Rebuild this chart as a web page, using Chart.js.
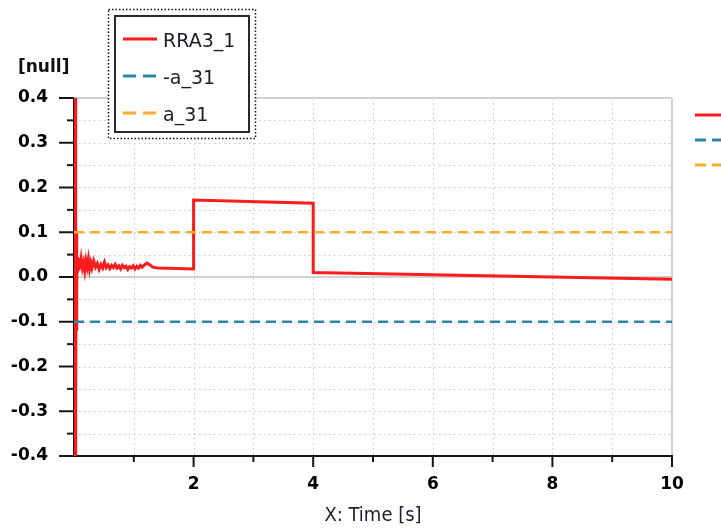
<!DOCTYPE html>
<html lang="en">
<head>
    <meta charset="UTF-8">
    <title>RRA3_1</title>
    <script src="https://cdn.jsdelivr.net/npm/chart.js"></script>
    <style>
        html, body { margin: 0; padding: 0; background: #fff; }
        #wrap { position: relative; width: 721px; height: 532px; }
    </style>
</head>
<body>
    <div id="wrap"><canvas id="myChart"></canvas></div>
    <script>
        // RRA3_1: time [s] and value
        const rraTime = [
            0, 0.004, 0.008, 0.012, 0.016, 0.02, 0.024, 0.028, 0.032, 0.036, 0.04, 0.045,
            0.05, 0.055, 0.06, 0.07, 0.08, 0.09, 0.1, 0.12, 0.14, 0.16, 0.18, 0.2,
            0.22, 0.24, 0.26, 0.28, 0.3, 0.33, 0.36, 0.39, 0.42, 0.45, 0.48, 0.51,
            0.54, 0.57, 0.6, 0.63, 0.66, 0.69, 0.72, 0.75, 0.78, 0.81, 0.84, 0.87,
            0.9, 0.93, 0.96, 0.99, 1.02, 1.05, 1.08, 1.11, 1.14, 1.18, 1.22, 1.26,
            1.32, 1.4, 2.0, 2.0, 4.0, 4.0, 10
        ];
        const rraValue = [
            0, 0.62, -0.6, 0.55, -0.55, 0.4, -0.45, 0.2, -0.3, 0.1, -0.12, 0.08,
            -0.02, 0.045, 0.01, 0.042, 0.015, 0.035, 0.018, 0.04, 0.02, 0.032, 0.014, 0.036,
            0.022, 0.04, 0.018, 0.032, 0.02, 0.036, 0.022, 0.03, 0.017, 0.028, 0.02, 0.033,
            0.021, 0.027, 0.019, 0.026, 0.021, 0.028, 0.02, 0.025, 0.018, 0.026, 0.021, 0.024,
            0.017, 0.023, 0.02, 0.025, 0.018, 0.024, 0.02, 0.026, 0.022, 0.027, 0.031, 0.028,
            0.022, 0.02, 0.018, 0.172, 0.165, 0.01, -0.005
        ];
        const limitTime = [0, 10];
        const negA31 = [-0.1, -0.1];
        const posA31 = [0.1, 0.1];

        const seriesNames = ['RRA3_1', '-a_31', 'a_31'];
        const seriesColors = ['#f81c1c', '#2f86a6', '#fbab2e'];

        const xTickLabels = [2, 4, 6, 8, 10];
        const yTickLabels = [-0.4, -0.3, -0.2, -0.1, 0, 0.1, 0.2, 0.3, 0.4];
        const yAxisUnit = '[null]';
        const xAxisTitle = 'X: Time [s]';

        const toPoints = (xs, ys) => xs.map((t, i) => ({ x: t, y: ys[i] }));
        const round2 = v => Math.round(v * 100) / 100;
        const isXLabel = v => xTickLabels.includes(round2(v));
        const isYLabel = v => yTickLabels.includes(round2(v) === 0 ? 0 : round2(v));

        function seg(ctx, x1, y1, x2, y2) {
            ctx.beginPath();
            ctx.moveTo(x1, y1);
            ctx.lineTo(x2, y2);
            ctx.stroke();
        }

        // grid, border and axes with tick marks
        const frame = {
            id: 'frame',
            beforeDatasetsDraw(chart) {
                const { ctx, chartArea: a, scales: { x, y } } = chart;
                ctx.save();
                ctx.lineWidth = 1;
                ctx.strokeStyle = '#c8c8c8';
                ctx.setLineDash([1.5, 3.5]);
                x.ticks.forEach(t => {
                    if (t.value <= x.min || t.value >= x.max) return;
                    const px = Math.round(x.getPixelForValue(t.value)) + 0.5;
                    seg(ctx, px, a.top, px, a.bottom);
                });
                y.ticks.forEach(t => {
                    if (t.value <= y.min || t.value >= y.max || round2(t.value) === 0) return;
                    const py = Math.round(y.getPixelForValue(t.value)) + 0.5;
                    seg(ctx, a.left, py, a.right, py);
                });
                ctx.setLineDash([]);
                ctx.strokeStyle = '#d2d2d2';
                ctx.lineWidth = 2;
                const y0 = y.getPixelForValue(0);
                seg(ctx, a.left, y0, a.right, y0);
                seg(ctx, a.left, a.top, a.right, a.top);
                seg(ctx, a.right, a.top, a.right, a.bottom);

                ctx.strokeStyle = '#151515';
                ctx.lineWidth = 2;
                seg(ctx, a.left, a.top, a.left, a.bottom + 1);
                seg(ctx, a.left - 1, a.bottom, a.right + 1, a.bottom);
                y.ticks.forEach(t => {
                    const py = y.getPixelForValue(t.value);
                    seg(ctx, a.left - (isYLabel(t.value) ? 15 : 7), py, a.left, py);
                });
                x.ticks.forEach(t => {
                    if (t.value <= x.min) return;
                    const px = x.getPixelForValue(t.value);
                    seg(ctx, px, a.bottom, px, a.bottom + (isXLabel(t.value) ? 11 : 6));
                });
                ctx.restore();
            }
        };

        // boxed legend, unit label and the cut-off legend at the right edge
        const boxLegend = {
            id: 'boxLegend',
            afterDraw(chart) {
                const ctx = chart.ctx;
                const sets = chart.data.datasets;
                ctx.save();
                ctx.fillStyle = '#111';
                ctx.font = 'bold 17px "DejaVu Sans"';
                ctx.textBaseline = 'middle';
                ctx.fillText(yAxisUnit, 18, 68);

                ctx.fillStyle = '#fff';
                ctx.fillRect(108, 9, 148, 130);
                ctx.strokeStyle = '#111';
                ctx.lineWidth = 1.5;
                ctx.setLineDash([1.5, 2]);
                ctx.strokeRect(108.5, 9.5, 147, 129);
                ctx.setLineDash([]);
                ctx.lineWidth = 2;
                ctx.strokeStyle = '#2a2a2a';
                ctx.strokeRect(115, 16, 134, 116);

                ctx.font = '19px "DejaVu Sans"';
                sets.forEach((ds, i) => {
                    const yy = 39 + i * 37;
                    ctx.strokeStyle = ds.borderColor;
                    ctx.lineWidth = 3;
                    ctx.setLineDash(ds.borderDash.length ? [13, 7] : []);
                    seg(ctx, 123, yy, 157, yy);
                    ctx.setLineDash([]);
                    ctx.fillStyle = '#1c1c2a';
                    ctx.fillText(ds.label, 163, yy + 3);
                });

                sets.forEach((ds, i) => {
                    const yy = 115 + i * 25;
                    ctx.strokeStyle = ds.borderColor;
                    ctx.lineWidth = 3;
                    ctx.setLineDash(ds.borderDash.length ? [11, 6] : []);
                    seg(ctx, 695, yy, 725, yy);
                });
                ctx.restore();
            }
        };

        const ctx = document.getElementById('myChart').getContext('2d');
        new Chart(ctx, {
            type: 'line',
            data: {
                datasets: [
                    {
                        label: seriesNames[0],
                        data: toPoints(rraTime, rraValue),
                        borderColor: seriesColors[0],
                        borderWidth: 3,
                        borderDash: [],
                        order: 2
                    },
                    {
                        label: seriesNames[1],
                        data: toPoints(limitTime, negA31),
                        borderColor: seriesColors[1],
                        borderWidth: 2.5,
                        borderDash: [10, 6],
                        order: 1
                    },
                    {
                        label: seriesNames[2],
                        data: toPoints(limitTime, posA31),
                        borderColor: seriesColors[2],
                        borderWidth: 2.5,
                        borderDash: [10, 6],
                        order: 0
                    }
                ]
            },
            options: {
                responsive: true,
                maintainAspectRatio: false,
                animation: false,
                layout: { padding: { top: 98, right: 49, left: 0, bottom: 0 } },
                elements: { point: { radius: 0 }, line: { tension: 0 } },
                plugins: { legend: { display: false }, tooltip: { enabled: false } },
                scales: {
                    x: {
                        type: 'linear',
                        min: 0,
                        max: 10,
                        afterFit(s) { s.height = 76; },
                        grid: { display: false, drawTicks: false },
                        border: { display: false },
                        ticks: {
                            stepSize: 1,
                            autoSkip: false,
                            maxRotation: 0,
                            padding: 18,
                            color: '#000',
                            font: { family: 'DejaVu Sans', size: 17, weight: 'bold' },
                            callback: v => isXLabel(v) ? String(round2(v)) : ''
                        },
                        title: {
                            display: true,
                            text: xAxisTitle,
                            color: '#1e1e34',
                            padding: { top: 0, bottom: 4 },
                            font: { family: '"DejaVu Sans Condensed", "Liberation Sans Narrow", "DejaVu Sans"', size: 20 }
                        }
                    },
                    y: {
                        min: -0.4,
                        max: 0.4,
                        afterFit(s) { s.width = 74; },
                        grid: { display: false, drawTicks: false },
                        border: { display: false },
                        ticks: {
                            stepSize: 0.05,
                            maxTicksLimit: 30,
                            autoSkip: false,
                            padding: 26,
                            color: '#000',
                            font: { family: 'DejaVu Sans', size: 17, weight: 'bold' },
                            callback: v => isYLabel(v) ? (round2(v) === 0 ? 0 : round2(v)).toFixed(1) : ''
                        }
                    }
                }
            },
            plugins: [frame, boxLegend]
        });
    </script>
</body>
</html>
